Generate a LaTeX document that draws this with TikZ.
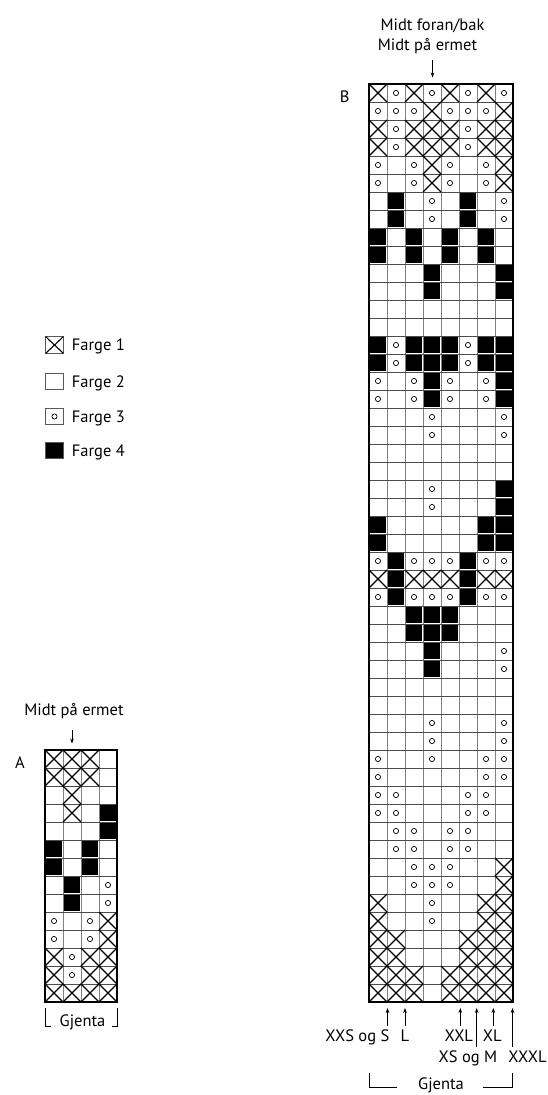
\documentclass[tikz,border=0pt]{standalone}
\usepackage{fontspec}
\setmainfont{PT Sans}
\usetikzlibrary{arrows.meta}
\tikzset{
  gridv/.style={draw=black!50, line width=0.8pt},
  gridh/.style={draw=black!70, line width=0.8pt},
  border/.style={draw=black, line width=1.8pt},
  xmark/.style={draw=black, line width=1.1pt},
  omark/.style={draw=black, line width=0.7pt},
  lbl/.style={font=\fontsize{16.5}{19}\selectfont, inner sep=0pt},
  tipline/.style={-{Stealth[length=5pt,width=3.6pt]}, line width=0.7pt},
  bracket/.style={draw=black, line width=0.8pt},
  legbox/.style={draw=black!65, line width=0.9pt},
}
\newcommand\kcX[2]{\draw[xmark] (#1,#2) -- (#1+18,#2+18) (#1+18,#2) -- (#1,#2+18);}
\newcommand\kco[2]{\draw[omark] (#1+9,#2+9) circle[radius=2.6pt];}
\newcommand\kcB[2]{\fill[black] (#1+1,#2+1) rectangle (#1+17,#2+17);}
\newcommand\kce[2]{}
\def\rowsB{%
{X,o,X,o,X,o,X,o},{o,o,o,X,o,o,o,X},{X,o,X,X,X,o,X,X},{X,o,X,X,X,o,X,X},%
{o,e,o,X,o,e,o,X},{o,e,o,X,o,e,o,X},{e,B,e,o,e,B,e,o},{e,B,e,o,e,B,e,o},%
{B,e,B,e,B,e,B,e},{B,e,B,e,B,e,B,e},{e,e,e,B,e,e,e,B},{e,e,e,B,e,e,e,B},%
{e,e,e,e,e,e,e,e},{e,e,e,e,e,e,e,e},{B,o,B,B,B,o,B,B},{B,o,B,B,B,o,B,B},%
{o,e,o,B,o,e,o,B},{o,e,o,B,o,e,o,B},{e,e,e,o,e,e,e,o},{e,e,e,o,e,e,e,o},%
{e,e,e,e,e,e,e,e},{e,e,e,e,e,e,e,e},{e,e,e,o,e,e,e,B},{e,e,e,o,e,e,e,B},%
{B,e,e,e,e,e,B,B},{B,e,e,e,e,e,B,B},{o,B,o,o,o,B,o,o},{X,B,X,X,X,B,X,X},%
{o,B,o,o,o,B,o,o},{e,e,B,B,B,e,e,e},{e,e,B,B,B,e,e,e},{e,e,e,B,e,e,e,o},%
{e,e,e,B,e,e,e,o},{e,e,e,e,e,e,e,e},{e,e,e,e,e,e,e,e},{e,e,e,o,e,e,e,o},%
{e,e,e,o,e,e,e,o},{o,e,e,o,e,e,o,o},{o,e,e,e,e,e,o,o},{o,o,e,e,e,o,o,e},%
{o,o,e,e,e,o,o,e},{e,o,o,e,o,o,e,e},{e,o,o,e,o,o,e,e},{e,e,o,o,o,e,e,X},%
{e,e,o,o,o,e,e,X},{X,e,e,o,e,e,X,X},{X,e,e,o,e,e,X,X},{X,X,e,e,e,X,X,X},%
{X,X,e,e,e,X,X,X},{X,X,X,e,X,X,X,X},{X,X,X,e,X,X,X,X}}
\def\rowsA{%
{X,X,X,e},{X,X,X,e},{e,X,e,e},{e,X,e,B},{e,e,e,B},{B,e,B,e},{B,e,B,e},%
{e,B,e,o},{e,B,e,o},{o,e,o,X},{o,e,o,X},{X,o,X,X},{X,o,X,X},{X,X,X,X}}
\begin{document}
\begin{tikzpicture}[x=1pt,y=-1pt]
\useasboundingbox (0,0) rectangle (548,1095);
% ---------- chart B ----------
\def\bx{369}\def\by{84}
\foreach \cj in {1,...,7} \draw[gridv] ({\bx+\cj*18},\by) -- ({\bx+\cj*18},{\by+51*18});
\foreach \ri in {1,...,50} \draw[gridh] (\bx,{\by+\ri*18}) -- ({\bx+144},{\by+\ri*18});
\foreach \rw [count=\ri] in \rowsB {
  \foreach \cv [count=\cj] in \rw {
    \pgfmathsetmacro\px{\bx+(\cj-1)*18}
    \pgfmathsetmacro\py{\by+(\ri-1)*18}
    \csname kc\cv\endcsname{\px}{\py}
  }
}
\draw[border] (\bx,\by) rectangle ({\bx+144},{\by+51*18});
% ---------- chart A ----------
\def\ax{45}\def\ay{750}
\foreach \cj in {1,...,3} \draw[gridv] ({\ax+\cj*18},\ay) -- ({\ax+\cj*18},{\ay+14*18});
\foreach \ri in {1,...,13} \draw[gridh] (\ax,{\ay+\ri*18}) -- ({\ax+72},{\ay+\ri*18});
\foreach \rw [count=\ri] in \rowsA {
  \foreach \cv [count=\cj] in \rw {
    \pgfmathsetmacro\px{\ax+(\cj-1)*18}
    \pgfmathsetmacro\py{\ay+(\ri-1)*18}
    \csname kc\cv\endcsname{\px}{\py}
  }
}
\draw[border] (\ax,\ay) rectangle ({\ax+72},{\ay+14*18});
% ---------- top labels B ----------
\node[lbl, anchor=base] (tb1) at (432.5,30.7) {Midt foran/bak};
\node[lbl, anchor=base] (tb2) at (427.5,50) {Midt på ermet};
\coordinate (tbs) at (432.5,60);
\coordinate (tbe) at (432.5,77.5);
\draw[tipline] (tbs) -- (tbe);
\node[lbl, anchor=base] (labB) at (344.7,102.3) {B};
% ---------- top labels A ----------
\node[lbl, anchor=base] (ta1) at (74,715) {Midt på ermet};
\coordinate (tas) at (72,730);
\coordinate (tae) at (72,743.5);
\draw[tipline] (tas) -- (tae);
\node[lbl, anchor=base] (labA) at (20,768) {A};
% ---------- legend ----------
\foreach \nm/\yc/\txt in {l1/345/{Farge 1},l2/381.5/{Farge 2},l3/416.5/{Farge 3},l4/450.3/{Farge 4}} {
  \node[lbl, anchor=base west] (\nm t) at (71.7,\yc+5.8) {\txt};
}
\draw[legbox] (45.7,336.7) rectangle (63.3,353.3);
\draw[xmark] (45.7,336.7) -- (63.3,353.3) (63.3,336.7) -- (45.7,353.3);
\draw[legbox] (45.7,373.2) rectangle (63.3,389.8);
\draw[legbox] (45.7,408.2) rectangle (63.3,424.8);
\draw[omark] (54.5,416.5) circle[radius=2.6pt];
\fill[black] (45.7,442) rectangle (63.3,458.6);
\draw[legbox] (45.7,442) rectangle (63.3,458.6);
% ---------- bottom size labels ----------
\node[lbl, anchor=base east] (sXXS) at (389.5,1041) {XXS og S};
\node[lbl, anchor=base] (sL) at (405,1041) {L};
\node[lbl, anchor=base] (sXXL) at (458.8,1041) {XXL};
\node[lbl, anchor=base] (sXL) at (492.3,1041) {XL};
\node[lbl, anchor=base] (sXSM) at (468,1062.7) {XS og M};
\node[lbl, anchor=base] (sXXXL) at (527.5,1062.7) {XXXL};
\foreach \nm/\xx/\yy in {a1/387.5/1025.5,a2/405/1025.5,a3/460.3/1025.5,a4/476.7/1046.7,a5/493.3/1025.5,a6/512.5/1046.7} {
  \coordinate (\nm s) at (\xx,\yy);
  \coordinate (\nm e) at (\xx,1008);
  \draw[tipline] (\nm s) -- (\nm e);
}
% ---------- Gjenta brackets ----------
\node[lbl, anchor=base] (gB) at (441,1089.5) {Gjenta};
\coordinate (gB1) at (369.5,1073); \coordinate (gB2) at (396.7,1087);
\coordinate (gB3) at (483,1087); \coordinate (gB4) at (512.5,1073);
\draw[bracket] (gB1) |- (gB2);
\draw[bracket] (gB3) -| (gB4);
\node[lbl, anchor=base] (gA) at (82.5,1026.7) {Gjenta};
\coordinate (gA1) at (45.7,1008.3); \coordinate (gA2) at (51,1026.7);
\coordinate (gA3) at (112,1026.7); \coordinate (gA4) at (117,1008.3);
\draw[bracket] (gA1) |- (gA2);
\draw[bracket] (gA3) -| (gA4);
\end{tikzpicture}
\end{document}
